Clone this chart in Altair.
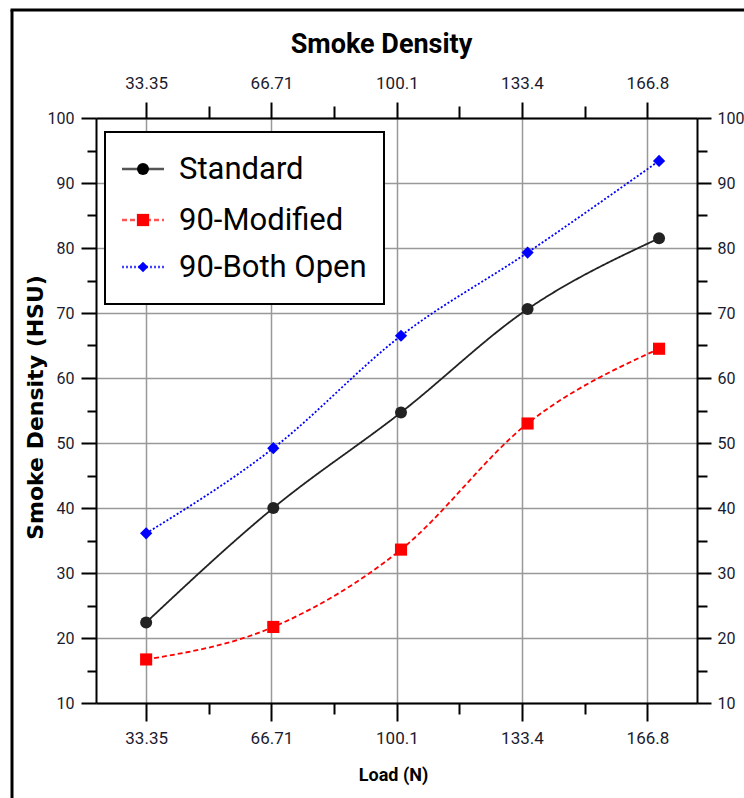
import altair as alt
import pandas as pd

# ---- data ----
series_names = ["Standard", "90-Modified", "90-Both Open"]
load_n = [33.35, 67.2, 101.2, 134.9, 169.9]
standard = [22.4, 40.0, 54.7, 70.6, 81.5]
modified_90 = [16.7, 21.7, 33.6, 53.0, 64.5]
both_open_90 = [36.1, 49.2, 66.5, 79.3, 93.4]

x_major = [33.35, 66.71, 100.1, 133.4, 166.8]
x_minor = [50.03, 83.4, 116.75, 150.1]
y_major = [10, 20, 30, 40, 50, 60, 70, 80, 90, 100]
y_minor = [15, 25, 35, 45, 55, 65, 75, 85, 95]

rows = []
for name, vals in zip(series_names, [standard, modified_90, both_open_90]):
    for x, y in zip(load_n, vals):
        rows.append({"load": x, "density": y, "series": name})
df = pd.DataFrame(rows)

# ---- styles ----
NARROW = "Roboto, Liberation Sans, sans-serif"
WIDE = "DejaVu Sans, Verdana, sans-serif"
line_colors = ["#222222", "#ff0000", "#0000ff"]
dashes = [[1, 0], [5, 3], [2, 2]]
shapes = ["circle", "square", "diamond"]
sizes = [144, 150, 110]

W, H = 601, 585
xs = alt.Scale(domain=[20, 180], nice=False, zero=False)
ys = alt.Scale(domain=[10, 100], nice=False, zero=False)

common = dict(domainColor="black", domainWidth=2, tickColor="black", tickWidth=2,
              labelFont=NARROW, labelColor="#1a1a2e")


def axis_layer(xaxis, yaxis):
    return alt.Chart(df).mark_point(opacity=0).encode(
        x=alt.X("load:Q", scale=xs, axis=xaxis),
        y=alt.Y("density:Q", scale=ys, axis=yaxis),
    )


layer_a = axis_layer(
    alt.Axis(orient="bottom", values=x_major, format=".4~g", tickSize=18, labelPadding=9,
             labelFontSize=17, grid=True, gridColor="#999999", gridWidth=1.5,
             title="Load (N)", titleFont=NARROW, titleFontSize=18, titleFontWeight="bold",
             titleX=297, titleY=77, titleBaseline="alphabetic", titleAlign="center",
             titleColor="black", **common),
    alt.Axis(orient="left", values=y_major, format="d", tickSize=15, labelPadding=7,
             labelFontSize=16, grid=True, gridColor="#999999", gridWidth=1.5,
             title="Smoke Density (HSU)", titleFont=WIDE, titleFontSize=22,
             titleFontWeight="bold", titleX=-54, titleY=289, titleAngle=270,
             titleBaseline="alphabetic", titleAlign="center", titleColor="black", **common),
)
layer_b = axis_layer(
    alt.Axis(orient="bottom", values=x_minor, tickSize=11, labels=False, domain=False,
             grid=False, title=None, tickColor="black", tickWidth=2),
    alt.Axis(orient="left", values=y_minor, tickSize=9, labels=False, domain=False,
             grid=False, title=None, tickColor="black", tickWidth=2),
)
layer_c = axis_layer(
    alt.Axis(orient="top", values=x_major, format=".4~g", tickSize=16, labelPadding=10,
             labelFontSize=17, grid=False,
             title="Smoke Density", titleFont=NARROW, titleFontSize=27, titleFontWeight="bold",
             titleX=285, titleY=-66, titleBaseline="alphabetic", titleAlign="center",
             titleColor="black", **common),
    alt.Axis(orient="right", values=y_major, format="d", tickSize=14, labelPadding=6,
             labelFontSize=16, grid=False, title=None, **common),
)
layer_d = axis_layer(
    alt.Axis(orient="top", values=x_minor, tickSize=12, labels=False, domain=False,
             grid=False, title=None, tickColor="black", tickWidth=2),
    alt.Axis(orient="right", values=y_minor, tickSize=10, labels=False, domain=False,
             grid=False, title=None, tickColor="black", tickWidth=2),
)

color_enc = alt.Color("series:N", scale=alt.Scale(domain=series_names, range=line_colors), legend=None)

lines = alt.Chart(df).mark_line(interpolate="monotone", strokeWidth=1.8).encode(
    x=alt.X("load:Q", scale=xs, axis=None),
    y=alt.Y("density:Q", scale=ys, axis=None),
    color=color_enc,
    strokeDash=alt.StrokeDash("series:N", scale=alt.Scale(domain=series_names, range=dashes), legend=None),
    detail="series:N",
)
points = alt.Chart(df).mark_point(filled=True, opacity=1).encode(
    x=alt.X("load:Q", scale=xs, axis=None),
    y=alt.Y("density:Q", scale=ys, axis=None),
    color=alt.Color("series:N", scale=alt.Scale(domain=series_names, range=["black", "#ff0000", "#0000ff"]), legend=None),
    shape=alt.Shape("series:N", scale=alt.Scale(domain=series_names, range=shapes), legend=None),
    size=alt.Size("series:N", scale=alt.Scale(domain=series_names, range=sizes), legend=None),
)

# ---- legend box drawn inside the plot ----
one = alt.Data(values=[{"k": 1}])
legend_layers = [
    alt.Chart(one).mark_rect(fill="white", stroke="black", strokeWidth=2).encode(
        x=alt.value(9), x2=alt.value(288), y=alt.value(14), y2=alt.value(186))
]
row_y = [51, 102, 149]
legend_line_colors = ["#555555", "#ff5555", "#4444ff"]
for i, name in enumerate(series_names):
    legend_layers.append(alt.Chart(one).mark_rule(
        color=legend_line_colors[i], strokeWidth=2.5, strokeDash=dashes[i]).encode(
        x=alt.value(26), x2=alt.value(68), y=alt.value(row_y[i])))
    legend_layers.append(alt.Chart(one).mark_point(
        shape=shapes[i], filled=True, opacity=1, size=sizes[i],
        color=["black", "#ff0000", "#0000ff"][i]).encode(
        x=alt.value(47), y=alt.value(row_y[i])))
    legend_layers.append(alt.Chart(one).mark_text(
        align="left", baseline="middle", font=NARROW, fontSize=31, color="black").encode(
        x=alt.value(83), y=alt.value(row_y[i] + 1), text=alt.value(name)))

# ---- outer frame (left and top edges) ----
frame = [
    alt.Chart(one).mark_rule(color="black", strokeWidth=3).encode(
        x=alt.value(-84), y=alt.value(-108), y2=alt.value(720)),
    alt.Chart(one).mark_rule(color="black", strokeWidth=3).encode(
        x=alt.value(-85.5), x2=alt.value(700), y=alt.value(-108)),
]

chart = alt.layer(
    layer_a, layer_b, layer_c, layer_d, lines, points, *legend_layers, *frame
).resolve_axis(x="independent", y="independent").properties(
    width=W, height=H,
    autosize=alt.AutoSizeParams(type="none"),
    padding={"left": 96, "top": 118, "right": 47, "bottom": 95},
    background="white",
).configure_view(stroke="transparent")

chart.save("out.html", embed_options={"renderer": "svg", "actions": False})
